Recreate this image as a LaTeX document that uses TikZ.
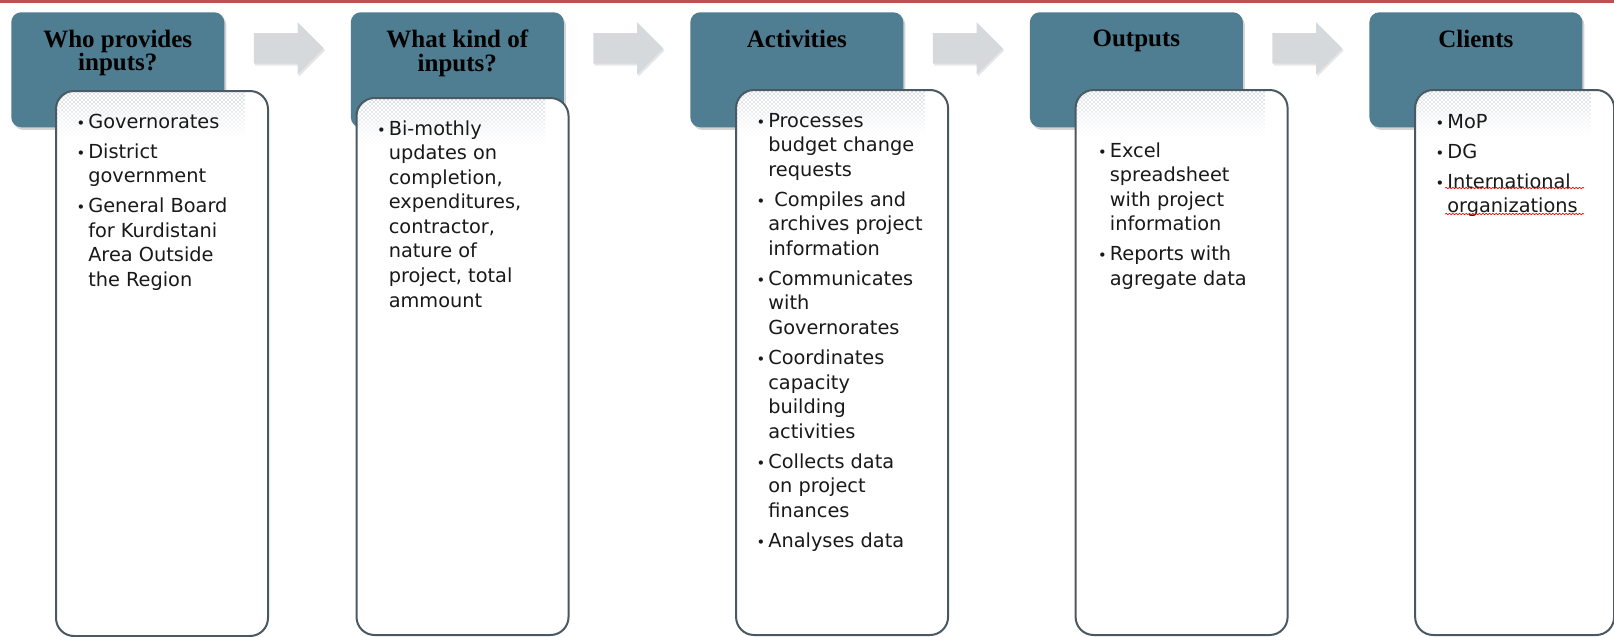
\documentclass[tikz,border=0pt]{standalone}
\usepackage{fontspec}
\setmainfont{DejaVu Sans}
\newfontfamily\titlefont{Liberation Serif}
\usepackage{tikz}
\usetikzlibrary{positioning, shapes.arrows, shadows, patterns, fadings, decorations.pathmorphing}

\definecolor{slateblue}{RGB}{79,125,145}
\definecolor{boxline}{RGB}{74,88,98}
\definecolor{arrowgray}{RGB}{214,217,219}
\definecolor{dotblue}{RGB}{96,120,140}
\definecolor{topred}{RGB}{192,80,77}
\definecolor{bodytext}{RGB}{25,25,25}

\tikzfading[name=dotfade, top color=transparent!0, middle color=transparent!15, bottom color=transparent!100]

\newcommand{\bul}{\makebox[8.25pt][l]{\kern-0.5pt\fontsize{11pt}{11pt}\selectfont\textbullet}}
\newcommand{\hng}{\hspace*{8.25pt}}
\newcommand{\fst}{\rule{0pt}{15pt}}

\begin{document}
\begin{tikzpicture}[x=0.75pt, y=-0.75pt, node distance=94.5pt]
            \tikzstyle{header}=[draw=none, fill=slateblue, rounded corners=7.5pt, minimum width=159.75pt, minimum height=86.25pt, inner sep=0pt, drop shadow={opacity=0.35, shadow xshift=1.5pt, shadow yshift=-2pt}]
            \tikzstyle{title}=[inner sep=0pt, anchor=north, align=center, font=\titlefont\bfseries\fontsize{18.75pt}{17.5pt}\selectfont]
            \tikzstyle{body}=[draw=boxline, line width=1.5pt, fill=white, rounded corners=13.5pt, minimum width=159pt, minimum height=408.75pt, inner sep=0pt, anchor=north west]
            \tikzstyle{items}=[inner sep=0pt, anchor=north west, align=left, text=bodytext, font=\fontsize{14.5pt}{18.4pt}\selectfont]
            \tikzstyle{flow}=[single arrow, fill=arrowgray, draw=none, minimum height=52.5pt, text height=11.25pt, text depth=11.25pt, text width=0pt, single arrow head extend=8.25pt, inner sep=0pt, drop shadow={opacity=0.2, shadow xshift=1pt, shadow yshift=-1.5pt}]
            \tikzstyle{dotband}=[pattern=crosshatch dots, pattern color=dotblue, path fading=dotfade]

            \useasboundingbox (0,0) rectangle (1614,636);
            \draw[topred, line width=2.25pt] (0,1.5) -- (1614,1.5);

            \node[header, anchor=north west] (h_1) at (11,12) {};
            \node[header, right=of h_1] (h_2) {};
            \node[header, right=of h_2] (h_3) {};
            \node[header, right=of h_3] (h_4) {};
            \node[header, right=of h_4] (h_5) {};

            \foreach \i in {1,...,5}
                \draw[white, line width=0.75pt] (h_\i.north west |- 0,3) -- (h_\i.north east |- 0,3);

            \node[title] (t_1) at ([shift={(0,18)}]h_1.north) {Who provides\\inputs?};
            \node[title] (t_2) at ([shift={(0,18)}]h_2.north) {What kind of\\inputs?};
            \node[title] (t_3) at ([shift={(0,18)}]h_3.north) {Activities};
            \node[title] (t_4) at ([shift={(0,18)}]h_4.north) {Outputs};
            \node[title] (t_5) at ([shift={(0,18)}]h_5.north) {Clients};

            \foreach \i in {1,...,4}
                \node[flow, right=21.75pt of h_\i, yshift=16pt] (a_\i) {};

            \node[body] (b_1) at ([shift={(44,78)}]h_1.north west) {};
            \node[body, minimum height=402.75pt] (b_2) at ([shift={(5,85)}]h_2.north west) {};
            \node[body] (b_3) at ([shift={(45,77)}]h_3.north west) {};
            \node[body] (b_4) at ([shift={(45,77)}]h_4.north west) {};
            \node[body, minimum width=149.25pt] (b_5) at ([shift={(45,77)}]h_5.north west) {};

            \foreach \i in {1,...,5} {
                \begin{scope}
                    \clip[rounded corners=12.5pt] ([shift={(1,1)}]b_\i.north west) rectangle ([shift={(-1,-1)}]b_\i.south east);
                    \fill[dotband] (b_\i.north west) rectangle ([shift={(-24,46)}]b_\i.north east);
                \end{scope}
            }

            \node[items] (l_1) at ([shift={(22,18)}]b_1.north west) {\fst\bul Governorates\\[4.1pt]\bul District\\\hng government\\[4.1pt]\bul General Board\\\hng for Kurdistani\\\hng Area Outside\\\hng the Region};
            \node[items] (l_2) at ([shift={(22,18)}]b_2.north west) {\fst\bul Bi-mothly\\\hng updates on\\\hng completion,\\\hng expenditures,\\\hng contractor,\\\hng nature of\\\hng project, total\\\hng ammount};
            \node[items] (l_3) at ([shift={(22,18)}]b_3.north west) {\fst\bul Processes\\\hng budget change\\\hng requests\\[4.1pt]\bul\ Compiles and\\\hng archives project\\\hng information\\[4.1pt]\bul Communicates\\\hng with\\\hng Governorates\\[4.1pt]\bul Coordinates\\\hng capacity\\\hng building\\\hng activities\\[4.1pt]\bul Collects data\\\hng on project\\\hng finances\\[4.1pt]\bul Analyses data};
            \node[items] (l_4) at ([shift={(24,48)}]b_4.north west) {\fst\bul Excel\\\hng spreadsheet\\\hng with project\\\hng information\\[4.1pt]\bul Reports with\\\hng agregate data};
            \node[items] (l_5) at ([shift={(22,19)}]b_5.north west) {\fst\bul MoP\\[4.1pt]\bul DG\\[4.1pt]\bul International\\\hng organizations};

            \draw[red, line width=0.5pt, decorate, decoration={snake, amplitude=0.5pt, segment length=2.5pt}] ([shift={(31,99)}]b_5.north west) -- ([shift={(170,99)}]b_5.north west);
            \draw[red, line width=0.5pt, decorate, decoration={snake, amplitude=0.5pt, segment length=2.5pt}] ([shift={(31,125)}]b_5.north west) -- ([shift={(170,125)}]b_5.north west);

          \end{tikzpicture}
\end{document}
